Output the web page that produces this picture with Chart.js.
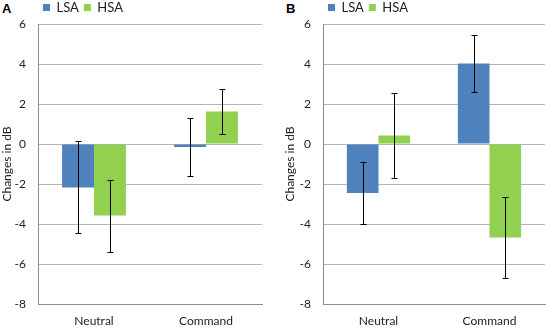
<!DOCTYPE html>
<html>
<head>
<meta charset="utf-8">
<script src="https://cdn.jsdelivr.net/npm/chart.js@4/dist/chart.umd.min.js"></script>
<style>
  html, body { margin: 0; padding: 0; background: #fff; }
  body { width: 546px; height: 328px; position: relative; overflow: hidden; }
  .wrap { position: absolute; top: 0; height: 328px; }
  .panel { position: absolute; font: bold 13px "Liberation Sans", Arial, sans-serif; color: #000; top: 1px; }
</style>
</head>
<body>
<div class="panel" style="left:2px">A</div>
<div class="panel" style="left:286px">B</div>
<div class="wrap" style="left:0; width:270px"><canvas id="cA" width="270" height="328"></canvas></div>
<div class="wrap" style="left:283px; width:263px"><canvas id="cB" width="263" height="328"></canvas></div>
<script>
// ---- data ----
const categories = ['Neutral', 'Command'];
const seriesNames = ['LSA', 'HSA'];
const yTicks = [-8, -6, -4, -2, 0, 2, 4, 6];

// Panel A
const aLSA = [-2.17, -0.15];
const aLSAerr = [2.3, 1.47];
const aHSA = [-3.58, 1.62];
const aHSAerr = [1.8, 1.12];

// Panel B
const bLSA = [-2.45, 4.03];
const bLSAerr = [1.53, 1.42];
const bHSA = [0.42, -4.68];
const bHSAerr = [2.14, 2.02];

const colLSA = '#4F81BD';
const colHSA = '#92D050';
const FONT = 'Lato, "Open Sans", sans-serif';

const errorBars = {
  id: 'errorBars',
  afterDatasetsDraw(chart) {
    const ctx = chart.ctx;
    const y = chart.scales.y;
    ctx.save();
    ctx.strokeStyle = '#000';
    ctx.lineWidth = 1;
    chart.data.datasets.forEach((ds, di) => {
      const meta = chart.getDatasetMeta(di);
      meta.data.forEach((bar, i) => {
        const v = ds.data[i], e = ds.errors[i];
        const x = Math.round(bar.x) + 0.5;
        const yt = Math.round(y.getPixelForValue(v + e)) + 0.5;
        const yb = Math.round(y.getPixelForValue(v - e)) + 0.5;
        ctx.beginPath();
        ctx.moveTo(x, yt); ctx.lineTo(x, yb);
        ctx.moveTo(x - 3, yt); ctx.lineTo(x + 3, yt);
        ctx.moveTo(x - 3, yb); ctx.lineTo(x + 3, yb);
        ctx.stroke();
      });
    });
    ctx.restore();
  }
};

const legendShift = {
  id: 'legendShift',
  afterLayout(chart, args, opts) {
    const lg = chart.legend;
    if (!lg) return;
    lg.left += opts.dx; lg.right += opts.dx;
    lg.top += opts.dy; lg.bottom += opts.dy;
  }
};

function makeChart(id, lsa, lsaErr, hsa, hsaErr, yWidth, padRight, legendDx) {
  return new Chart(document.getElementById(id), {
    type: 'bar',
    data: {
      labels: categories,
      datasets: [
        { label: seriesNames[0], data: lsa, errors: lsaErr, backgroundColor: colLSA, borderWidth: 0 },
        { label: seriesNames[1], data: hsa, errors: hsaErr, backgroundColor: colHSA, borderWidth: 0 }
      ]
    },
    options: {
      responsive: false,
      animation: false,
      events: [],
      layout: { padding: { left: 0, right: padRight, top: 0, bottom: 0 } },
      datasets: { bar: { categoryPercentage: 0.57, barPercentage: 1.0 } },
      plugins: {
        tooltip: { enabled: false },
        title: { display: false },
        legend: {
          display: true,
          position: 'top',
          align: 'start',
          maxHeight: 24,
          labels: {
            boxWidth: 7, boxHeight: 7, padding: 5,
            color: '#222',
            font: { family: FONT, size: 13 }
          }
        },
        legendShift: { dx: legendDx, dy: -4 }
      },
      scales: {
        x: {
          grid: { display: false, drawTicks: false },
          border: { display: true, color: '#8c8c8c', width: 1 },
          ticks: { color: '#222', padding: 10, font: { family: FONT, size: 12 } },
          afterFit(s) { s.height = 24; }
        },
        y: {
          min: -8, max: 6,
          afterBuildTicks(s) { s.ticks = yTicks.map(v => ({ value: v })); },
          grid: { color: '#b5b5b5', lineWidth: 1, drawTicks: false },
          border: { display: true, color: '#8c8c8c', width: 1 },
          ticks: { color: '#222', padding: 12, font: { family: FONT, size: 12 } },
          title: {
            display: true, text: 'Changes in dB', color: '#222',
            font: { family: FONT, size: 12 }, padding: { top: 0, bottom: 0 }
          },
          afterFit(s) { s.width = yWidth; }
        }
      }
    },
    plugins: [errorBars, legendShift]
  });
}

makeChart('cA', aLSA, aLSAerr, aHSA, aHSAerr, 38, 8, 38);
makeChart('cB', bLSA, bLSAerr, bHSA, bHSAerr, 40, 1, 40);
</script>
</body>
</html>
